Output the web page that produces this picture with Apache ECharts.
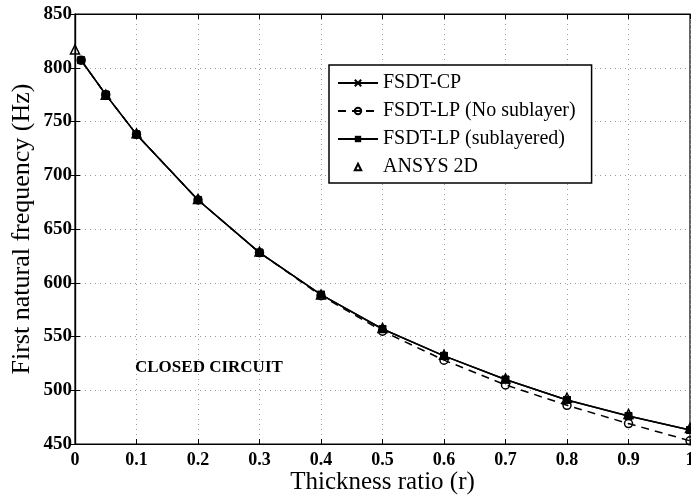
<!DOCTYPE html>
<html><head><meta charset="utf-8">
<script src="https://cdn.jsdelivr.net/npm/echarts@6/dist/echarts.min.js"></script>
<style>html,body{margin:0;padding:0;background:#fff}#c{width:691px;height:498px}</style>
</head><body><div id="c"></div>
<script>
const xVals = [0.01,0.05,0.1,0.2,0.3,0.4,0.5,0.6,0.7,0.8,0.9,1.0];
const cpVals = [807,775,738,677,628,589,557,532,510,491,476,463];
const lpNoSubVals = [807,775,738,677,628,588,555,528,505,486,469,453];
const lpSubVals = [807,775,738,677,628,589,557,532,510,491,476,463];
const ansysX = [0,0.05,0.1,0.2,0.3,0.4,0.5,0.6,0.7,0.8,0.9,1.0];
const ansysVals = [817,775,739,678,629,589,558,533,511,493,478,465];
const seriesNames = ['FSDT-CP','FSDT-LP (No sublayer)','FSDT-LP (sublayered)','ANSYS 2D'];
const xTicks = ['0','0.1','0.2','0.3','0.4','0.5','0.6','0.7','0.8','0.9','1'];

const pair = (xs, ys) => xs.map((x, i) => [x, ys[i]]);
const font = 'Liberation Serif, Times New Roman, serif';
const crossPath = 'path://M0,0 L10,10 M10,0 L0,10 M0,0 L10,10';

const chart = echarts.init(document.getElementById('c'));
chart.setOption({
  animation: false,
  grid: {left: 75, right: 1, top: 14, bottom: 54, show: true, borderColor: '#000', borderWidth: 1.2,
    containLabel: false, outerBoundsMode: 'none'},
  xAxis: [{
    type: 'value', min: 0, max: 1, interval: 0.1,
    axisLine: {show: true, lineStyle: {color: '#000', width: 1.2}},
    axisTick: {show: true, inside: true, length: 5, lineStyle: {color: '#000'}},
    axisLabel: {color: '#000', fontFamily: font, fontWeight: 'bold', fontSize: 18, margin: 7,
      formatter: v => xTicks[Math.round(v * 10)]},
    splitLine: {show: true, lineStyle: {color: '#999', type: [1, 4], width: 1}},
    name: 'Thickness ratio (r)', nameLocation: 'middle', nameGap: 26, nameMoveOverlap: false,
    nameTextStyle: {color: '#000', fontFamily: font, fontSize: 25}
  }, {
    type: 'value', position: 'top', min: 0, max: 1, interval: 0.1,
    axisLine: {show: true, lineStyle: {color: '#000', width: 1.2}},
    axisTick: {show: true, inside: true, length: 5, lineStyle: {color: '#000'}},
    axisLabel: {show: false}, splitLine: {show: false}
  }],
  yAxis: [{
    type: 'value', min: 450, max: 850, interval: 50,
    axisLine: {show: true, lineStyle: {color: '#000', width: 1.2}},
    axisTick: {show: true, inside: true, length: 5, lineStyle: {color: '#000'}},
    axisLabel: {color: '#000', fontFamily: font, fontWeight: 'bold', fontSize: 19, margin: 3},
    splitLine: {show: true, lineStyle: {color: '#999', type: [1, 4], width: 1}},
    name: 'First natural frequency (Hz)', nameLocation: 'middle', nameGap: 40, nameRotate: 90,
    nameMoveOverlap: false,
    nameTextStyle: {color: '#000', fontFamily: font, fontSize: 26}
  }, {
    type: 'value', position: 'right', min: 450, max: 850, interval: 50,
    axisLine: {show: true, lineStyle: {color: '#000', width: 1.2}},
    axisTick: {show: true, inside: true, length: 5, lineStyle: {color: '#000'}},
    axisLabel: {show: false}, splitLine: {show: false}
  }],
  legend: {
    show: true, left: 329, top: 65, orient: 'vertical', itemGap: 8,
    padding: [8, 16, 6, 8], borderColor: '#000', borderWidth: 1.5, backgroundColor: '#fff',
    itemWidth: 40, itemHeight: 8,
    textStyle: {color: '#000', fontFamily: font, fontSize: 20},
    data: seriesNames.map(n => ({name: n}))
  },
  graphic: [{
    type: 'text', left: 135, top: 359,
    style: {text: 'CLOSED CIRCUIT', fill: '#000', font: 'bold 17px ' + font}
  }],
  series: [{
    name: seriesNames[0], type: 'line', data: pair(xVals, cpVals), z: 3,
    lineStyle: {color: '#000', width: 1.5}, itemStyle: {color: '#000', borderColor: '#000', borderWidth: 1.5},
    symbol: crossPath, symbolSize: 7, showAllSymbol: true
  }, {
    name: seriesNames[1], type: 'line', data: pair(xVals, lpNoSubVals), z: 2,
    lineStyle: {color: '#000', width: 1.5, type: [8, 6]}, itemStyle: {color: 'rgba(255,255,255,0)', borderColor: '#000', borderWidth: 1.5},
    symbol: 'circle', symbolSize: 8
  }, {
    name: seriesNames[2], type: 'line', data: pair(xVals, lpSubVals), z: 4,
    lineStyle: {color: '#000', width: 1.5}, itemStyle: {color: '#000', borderColor: '#000'},
    symbol: 'rect', symbolSize: 7
  }, {
    name: seriesNames[3], type: 'line', data: pair(ansysX, ansysVals), z: 5,
    lineStyle: {width: 0, opacity: 0}, itemStyle: {color: 'rgba(255,255,255,0)', borderColor: '#000', borderWidth: 1.5},
    symbol: 'triangle', symbolSize: 9
  }]
});
</script></body></html>
